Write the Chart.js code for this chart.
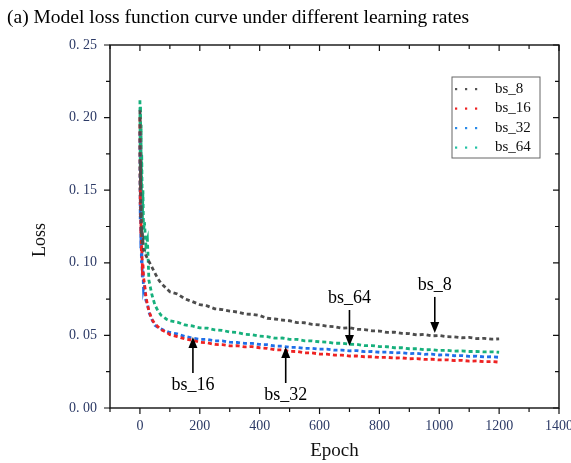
<!DOCTYPE html>
<html>
<head>
<meta charset="utf-8">
<script src="https://cdn.jsdelivr.net/npm/chart.js@4.4.0/dist/chart.umd.min.js"></script>
<style>
  html, body { margin: 0; padding: 0; background: #fff; overflow: hidden; }
  #wrap { position: relative; width: 590px; height: 463px; }
</style>
</head>
<body>
<div id="wrap"><canvas id="lossChart"></canvas></div>
<script>
// Epochs sampled along the curves.
var epochs = [0, 1, 2, 3, 4, 5, 6, 8, 10, 12, 15, 20, 25, 30, 40, 50, 60, 70, 80, 90, 100,
  125, 150, 175, 200, 225, 250, 275, 300, 325, 350, 375, 400, 425, 450, 475, 500,
  525, 550, 575, 600, 625, 650, 675, 700, 725, 750, 775, 800, 825, 850, 875, 900,
  925, 950, 975, 1000, 1025, 1050, 1075, 1100, 1125, 1150, 1175, 1200];

var seriesNames = ['bs_8', 'bs_16', 'bs_32', 'bs_64'];

var lossBs8 = [0.205, 0.150, 0.170, 0.130, 0.140, 0.120, 0.125, 0.113, 0.115, 0.109, 0.108, 0.105, 0.103, 0.101, 0.097, 0.093, 0.089, 0.086, 0.084, 0.082, 0.080,
  0.0785, 0.0752, 0.0733, 0.0712, 0.0703, 0.0683, 0.0678, 0.0668, 0.0661, 0.0648, 0.0645, 0.0637, 0.0618, 0.0613, 0.0606, 0.0601,
  0.0588, 0.0587, 0.0576, 0.0572, 0.0564, 0.0560, 0.0549, 0.0553, 0.0542, 0.0540, 0.0532, 0.0530, 0.0521, 0.0522, 0.0514, 0.0512,
  0.0503, 0.0507, 0.0497, 0.0499, 0.0491, 0.0490, 0.0484, 0.0486, 0.0478, 0.0480, 0.0474, 0.0476];

var lossBs16 = [0.200, 0.140, 0.165, 0.120, 0.130, 0.108, 0.112, 0.098, 0.100, 0.090, 0.086, 0.077, 0.071, 0.067, 0.061, 0.058, 0.056, 0.054, 0.053, 0.052, 0.0505,
  0.0492, 0.0476, 0.0467, 0.0453, 0.0449, 0.0438, 0.0436, 0.0428, 0.0429, 0.0421, 0.0423, 0.0415, 0.0411, 0.0401, 0.0400, 0.0390,
  0.0389, 0.0380, 0.0379, 0.0372, 0.0371, 0.0364, 0.0364, 0.0358, 0.0358, 0.0353, 0.0353, 0.0348, 0.0349, 0.0344, 0.0345, 0.0339,
  0.0340, 0.0335, 0.0336, 0.0331, 0.0332, 0.0327, 0.0328, 0.0323, 0.0324, 0.0319, 0.0320, 0.0316];

var lossBs32 = [0.190, 0.130, 0.160, 0.110, 0.125, 0.100, 0.110, 0.090, 0.095, 0.082, 0.085, 0.074, 0.072, 0.066, 0.061, 0.057, 0.0555, 0.0545, 0.0535, 0.0528, 0.052,
  0.0510, 0.0493, 0.0482, 0.0473, 0.0472, 0.0463, 0.0462, 0.0453, 0.0451, 0.0445, 0.0445, 0.0438, 0.0436, 0.0427, 0.0426, 0.0418,
  0.0418, 0.0411, 0.0411, 0.0405, 0.0405, 0.0398, 0.0399, 0.0394, 0.0395, 0.0388, 0.0389, 0.0384, 0.0385, 0.0380, 0.0381, 0.0375,
  0.0376, 0.0370, 0.0371, 0.0365, 0.0366, 0.0360, 0.0361, 0.0356, 0.0357, 0.0352, 0.0353, 0.0349];

var lossBs64 = [0.212, 0.165, 0.208, 0.150, 0.195, 0.140, 0.175, 0.128, 0.150, 0.122, 0.128, 0.112, 0.116, 0.088, 0.078, 0.071, 0.067, 0.064, 0.0625, 0.061, 0.0600,
  0.0591, 0.0572, 0.0565, 0.0552, 0.0550, 0.0538, 0.0535, 0.0523, 0.0520, 0.0508, 0.0505, 0.0495, 0.0492, 0.0481, 0.0482, 0.0473,
  0.0472, 0.0463, 0.0462, 0.0456, 0.0454, 0.0446, 0.0446, 0.0439, 0.0438, 0.0430, 0.0430, 0.0423, 0.0422, 0.0415, 0.0415, 0.0408,
  0.0408, 0.0401, 0.0402, 0.0396, 0.0397, 0.0392, 0.0393, 0.0389, 0.0389, 0.0386, 0.0387, 0.0384];

// Arrow callouts: label, epoch and loss the arrow points at, direction.
var calloutLabels = ['bs_8', 'bs_64', 'bs_16', 'bs_32'];
var calloutEpochs = [985, 700, 177, 487];
var calloutLoss = [0.0517, 0.0427, 0.0489, 0.0420];
var calloutDir = ['down', 'down', 'up', 'up'];

var colors = ['#4d4d4d', '#ee2222', '#1f6fe8', '#16b07c'];
var legendColors = ['#555555', '#ee2222', '#2a8ae8', '#22c2a4'];
var serif = "'Liberation Serif', 'DejaVu Serif', serif";
var tickColor = '#2c3a66';

function pts(vals) {
  return epochs.map(function (e, i) { return { x: e, y: vals[i] }; });
}

// Frame, tick marks, legend box, y title and arrows.
var decorations = {
  id: 'decorations',
  afterDraw: function (chart) {
    var ctx = chart.ctx, a = chart.chartArea;
    var xs = chart.scales.x, ys = chart.scales.y;
    ctx.save();
    ctx.strokeStyle = '#111';
    ctx.lineWidth = 1.4;
    ctx.strokeRect(a.left, a.top, a.right - a.left, a.bottom - a.top);

    ctx.lineWidth = 1.2;
    xs.ticks.forEach(function (t) {
      var px = xs.getPixelForValue(t.value);
      var len = (t.value % 200 === 0) ? 6 : 4;
      ctx.beginPath();
      ctx.moveTo(px, a.bottom); ctx.lineTo(px, a.bottom + len);
      ctx.moveTo(px, a.top); ctx.lineTo(px, a.top + len);
      ctx.stroke();
    });
    ys.ticks.forEach(function (t) {
      var py = ys.getPixelForValue(t.value);
      var major = Math.abs(t.value / 0.05 - Math.round(t.value / 0.05)) < 1e-6;
      var len = major ? 6 : 4;
      ctx.beginPath();
      ctx.moveTo(a.left, py); ctx.lineTo(a.left - len, py);
      ctx.moveTo(a.right, py); ctx.lineTo(a.right - len, py);
      ctx.stroke();
    });

    // y axis title, sitting a little below the middle as in the source
    ctx.save();
    ctx.translate(40, 240);
    ctx.rotate(-Math.PI / 2);
    ctx.fillStyle = '#111';
    ctx.font = '18px ' + serif;
    ctx.textAlign = 'center';
    ctx.textBaseline = 'middle';
    ctx.fillText('Loss', 0, 0);
    ctx.restore();

    // legend
    var lx = 452, ly = 77, lw = 88, lh = 81;
    ctx.lineWidth = 1;
    ctx.strokeStyle = '#666';
    ctx.strokeRect(lx, ly, lw, lh);
    ctx.font = '15px ' + serif;
    ctx.textBaseline = 'middle';
    ctx.textAlign = 'left';
    chart.data.datasets.forEach(function (ds, i) {
      var y = ly + 12 + i * 19.5;
      ctx.fillStyle = legendColors[i];
      for (var k = 0; k < 3; k++) {
        ctx.fillRect(lx + 3 + k * 10, y - 1, 2.2, 2.2);
      }
      ctx.fillStyle = '#111';
      ctx.fillText(ds.label, lx + 43, y);
    });

    // callout arrows
    ctx.fillStyle = '#000';
    ctx.strokeStyle = '#000';
    ctx.lineWidth = 1.6;
    ctx.font = '18px ' + serif;
    ctx.textAlign = 'center';
    calloutLabels.forEach(function (lab, i) {
      var x = xs.getPixelForValue(calloutEpochs[i]);
      var tip = ys.getPixelForValue(calloutLoss[i]);
      var s = calloutDir[i] === 'down' ? -1 : 1;
      var tail = tip + s * 36;
      ctx.beginPath();
      ctx.moveTo(x, tail); ctx.lineTo(x, tip + s * 9);
      ctx.stroke();
      ctx.beginPath();
      ctx.moveTo(x, tip);
      ctx.lineTo(x - 4.5, tip + s * 11);
      ctx.lineTo(x + 4.5, tip + s * 11);
      ctx.closePath();
      ctx.fill();
      ctx.fillText(lab, x, tail + s * 12);
    });
    ctx.restore();
  }
};

var datasets = [lossBs8, lossBs16, lossBs32, lossBs64].map(function (vals, i) {
  return {
    label: seriesNames[i],
    data: pts(vals),
    borderColor: colors[i],
    backgroundColor: colors[i],
    borderWidth: 2.8,
    borderDash: [4, 3],
    pointRadius: 0,
    tension: 0,
    fill: false
  };
});

new Chart(document.getElementById('lossChart'), {
  type: 'line',
  data: { datasets: datasets },
  plugins: [decorations],
  options: {
    responsive: true,
    maintainAspectRatio: false,
    animation: false,
    layout: { padding: { left: 7, right: 31, top: 0, bottom: 1 } },
    plugins: {
      legend: { display: false },
      tooltip: { enabled: false },
      title: {
        display: true,
        text: '(a) Model loss function curve under different learning rates',
        align: 'start',
        color: '#000',
        font: { family: serif, size: 19.5, weight: 'normal' },
        padding: { top: 6, bottom: 15.6 }
      }
    },
    scales: {
      x: {
        type: 'linear',
        min: -100,
        max: 1400,
        grid: { display: false, drawTicks: false },
        border: { display: false },
        afterFit: function (s) { s.height = 54; },
        ticks: {
          stepSize: 100,
          autoSkip: false,
          maxRotation: 0,
          padding: 10,
          color: tickColor,
          font: { family: serif, size: 14 },
          callback: function (v) { return (v >= 0 && v % 200 === 0) ? String(v) : ''; }
        },
        title: {
          display: true,
          text: 'Epoch',
          color: '#111',
          font: { family: serif, size: 19 },
          padding: { top: 0, bottom: 0 }
        }
      },
      y: {
        min: 0,
        max: 0.25,
        grid: { display: false, drawTicks: false },
        border: { display: false },
        afterFit: function (s) { s.width = 103; },
        ticks: {
          stepSize: 0.025,
          autoSkip: false,
          padding: 13,
          color: tickColor,
          font: { family: serif, size: 14 },
          callback: function (v) {
            var r = Math.round(v / 0.025);
            return (r % 2 === 0) ? (r * 0.025).toFixed(2).replace('.', '. ') : '';
          }
        }
      }
    }
  }
});
</script>
</body>
</html>
